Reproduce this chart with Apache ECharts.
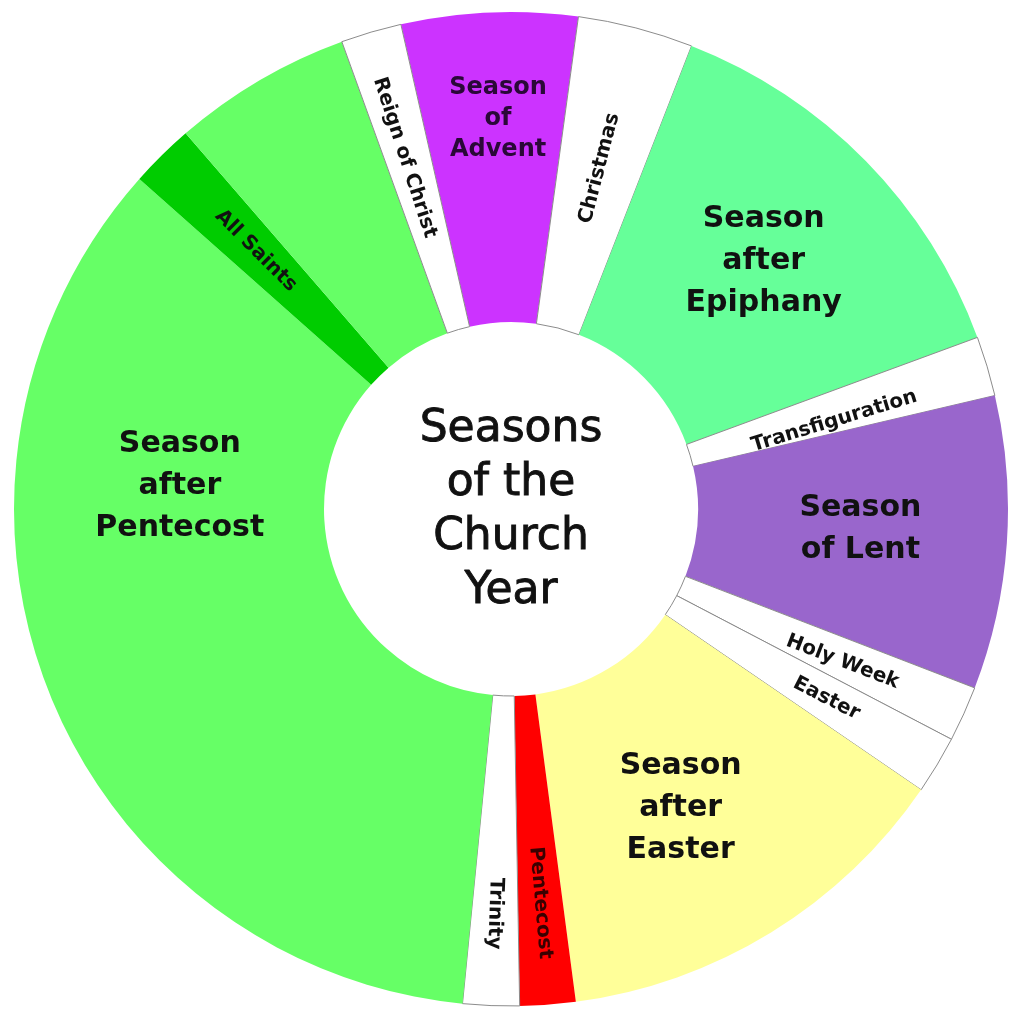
<!DOCTYPE html>
<html>
<head>
<meta charset="utf-8">
<script src="https://cdn.jsdelivr.net/npm/echarts@6/dist/echarts.min.js"></script>
<style>html,body{margin:0;padding:0;background:#fff}#c{width:1010px;height:1010px}</style>
</head>
<body>
<div id="c"></div>
<script>
// ---- data (slice spans in degrees, clockwise from Advent) ----
const seasons = ['Season of Advent','Christmas','Season after Epiphany','Transfiguration','Season of Lent','Holy Week','Easter','Season after Easter','Pentecost','Trinity','Season after Pentecost','All Saints','Season after Pentecost (cont.)','Reign of Christ'];
const spans = [20.6, 13.5, 48.5, 7.0, 34.3, 6.5, 6.8, 48.1, 6.5, 6.6, 126.0, 7.5, 21.0, 7.1];
const labelTexts = ['Season\nof\nAdvent','Christmas','Season\nafter\nEpiphany','Transfiguration','Season\nof Lent','Holy Week','Easter','Season\nafter\nEaster','Pentecost','Trinity','Season\nafter\nPentecost','All Saints','','Reign of Christ'];
const centerTitle = ['Seasons','of the','Church','Year'];

// ---- styles / layout ----
const colors = ['#cc33ff','#ffffff','#66ff99','#ffffff','#9966cc','#ffffff','#ffffff','#ffff99','#ff0000','#ffffff','#66ff66','#00cc00','#66ff66','#ffffff'];
const labelKind = ['mid','small','big','small','big','small','small','big','small','small','big','small','none','small'];
const labelRotate = [0, 75.5, 0, 17, 0, -21, -27, 0, -85, -92, 0, -45, 0, -72];
const labelRadius = [390, 352, 354, 335, 350, 365, 368, 344, 395, 405, 332, 363, 0, 367];
const labelShift = [0.6, 0, 0, 1.5, -0.6, 0.4, 0, 2, 0, 0, 25.4, 0, 0, -0.5];
const CX = 511, CY = 509;

const data = seasons.map(function (name, i) {
  const kind = labelKind[i];
  const isWhite = colors[i] === '#ffffff';
  const lab = {
    show: kind !== 'none',
    formatter: labelTexts[i],
    rotate: labelRotate[i],
    fontFamily: 'DejaVu Sans',
    fontWeight: 'bold',
    color: '#111111'
  };
  if (kind === 'big') Object.assign(lab, { fontSize: 30, lineHeight: 42 });
  else if (kind === 'mid') Object.assign(lab, { fontSize: 24, lineHeight: 31, color: '#2a0838' });
  else Object.assign(lab, { fontSize: 20, lineHeight: 22 });
  if (i === 8) lab.color = '#3a0000';
  return {
    name: name,
    value: spans[i],
    itemStyle: isWhite
      ? { color: colors[i], borderColor: '#8c8c8c', borderWidth: 1 }
      : { color: colors[i], borderWidth: 0 },
    label: lab
  };
});

const chart = echarts.init(document.getElementById('c'), null, { renderer: 'canvas' });
chart.setOption({
  animation: false,
  backgroundColor: '#ffffff',
  series: [{
    type: 'pie',
    center: [CX, CY],
    radius: [187, 497],
    startAngle: 102.8,
    clockwise: true,
    avoidLabelOverlap: false,
    minShowLabelAngle: 0,
    label: { position: 'inside', show: true },
    labelLine: { show: false },
    emphasis: { disabled: true },
    labelLayout: function (p) {
      const i = p.dataIndex;
      if (!labelRadius[i]) return {};
      const r = p.labelRect;
      const lx = r.x + r.width / 2, ly = r.y + r.height / 2;
      const a = Math.atan2(ly - CY, lx - CX) + labelShift[i] * Math.PI / 180;
      return { x: CX + labelRadius[i] * Math.cos(a), y: CY + labelRadius[i] * Math.sin(a) };
    },
    data: data
  }],
  graphic: [{
    type: 'text',
    x: CX,
    y: CY + 2,
    style: {
      text: centerTitle.join('\n'),
      fill: '#111111',
      stroke: '#111111',
      lineWidth: 0.9,
      fontSize: 44,
      fontFamily: 'DejaVu Sans',
      lineHeight: 54,
      align: 'center',
      verticalAlign: 'middle'
    }
  }]
});
</script>
</body>
</html>
